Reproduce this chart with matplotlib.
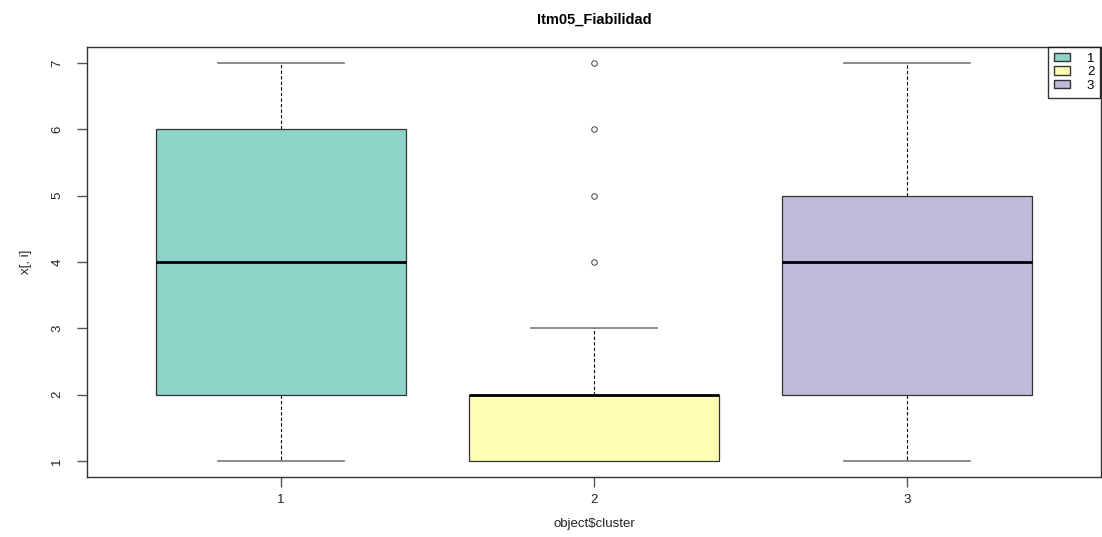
import matplotlib
matplotlib.use("Agg")
import matplotlib.pyplot as plt
from matplotlib.patches import Patch

plt.rcParams['font.family'] = ['Liberation Sans', 'DejaVu Sans']

clusters = ["1", "2", "3"]
whisker_low = [1, 1, 1]
q1 = [2, 1, 2]
median = [4, 2, 4]
q3 = [6, 2, 5]
whisker_high = [7, 3, 7]
outliers = [[], [4, 5, 6, 7], []]
colors = ["#8DD3C7", "#FFFFB3", "#BEBADA"]

stats = []
for i, name in enumerate(clusters):
    stats.append(dict(label=name, whislo=whisker_low[i], q1=q1[i], med=median[i],
                      q3=q3[i], whishi=whisker_high[i], fliers=outliers[i]))

fig = plt.figure(figsize=(11.02, 5.37), dpi=100)
ax = fig.add_axes([87/1102, 60/537, (1101-87)/1102, (477-47)/537])

bp = ax.bxp(stats, positions=[1, 2, 3], widths=0.8, patch_artist=True,
            capwidths=0.4,
            boxprops=dict(edgecolor="#333333", linewidth=0.9, zorder=3),
            medianprops=dict(color="black", linewidth=2, zorder=4),
            whiskerprops=dict(color="black", linestyle=(0, (3, 2)), linewidth=0.8),
            capprops=dict(color="#777777", linewidth=1.2, zorder=1.5),
            flierprops=dict(marker="o", markersize=4, markerfacecolor="none",
                            markeredgecolor="#444444", markeredgewidth=0.7))
for patch, c in zip(bp["boxes"], colors):
    patch.set_facecolor(c)

ax.set_xlim(0.38, 3.62)
ax.set_ylim(0.76, 7.24)
ax.set_yticks(range(1, 8))
ax.set_xticks([1, 2, 3])
ax.set_xticklabels(clusters)
for lbl in ax.get_yticklabels():
    lbl.set_rotation(90)
    lbl.set_va("center")
ax.tick_params(axis="both", length=7, width=1, color="#555555", labelsize=9.5,
               labelcolor="#222222")
ax.tick_params(axis="y", pad=10)
ax.tick_params(axis="x", pad=5)
for s in ax.spines.values():
    s.set_color("#333333")
    s.set_linewidth(1)

ax.set_xlabel("object$cluster", fontsize=9.5, labelpad=9, color="#222222")
ax.set_ylabel("x[, i]", fontsize=9.5, labelpad=14, color="#222222")
fig.text(594/1102, 1 - 20/537, "Itm05_Fiabilidad", ha="center", va="center",
         fontsize=10.5, fontweight="bold")

handles = [Patch(facecolor=c, edgecolor="#333333", label=l) for c, l in zip(colors, clusters)]
leg = fig.legend(handles=handles, loc="upper left",
                 bbox_to_anchor=(1048/1102, 1 - 47/537), fontsize=9.5,
                 frameon=True, fancybox=False, borderaxespad=0,
                 handlelength=1.2, handleheight=0.6, handletextpad=1.3,
                 labelspacing=0.1, borderpad=0.45)
leg.get_frame().set_edgecolor("black")
leg.get_frame().set_linewidth(1)

fig.savefig("out.png", dpi=100)
